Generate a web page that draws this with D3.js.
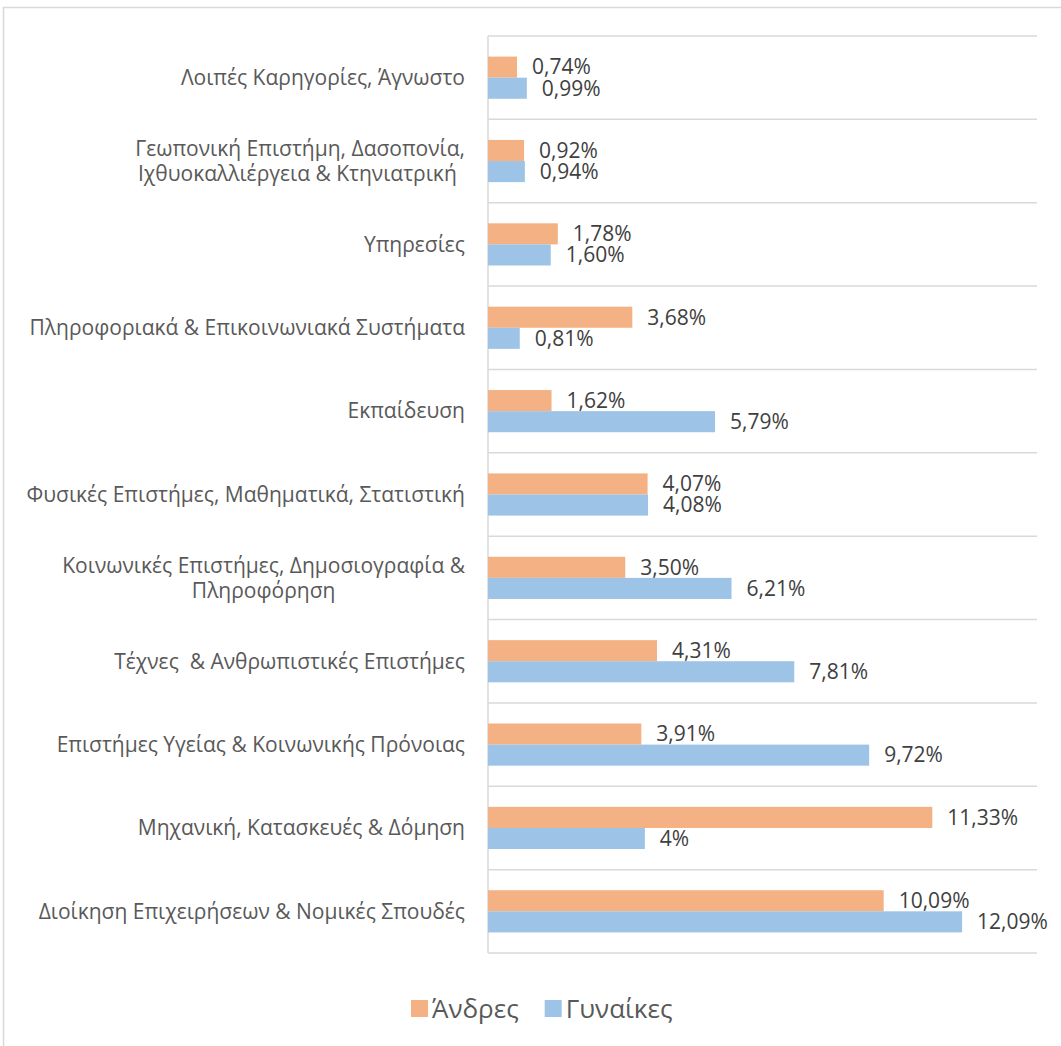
<!DOCTYPE html>
<html>
<head>
<meta charset="utf-8">
<script src="https://cdn.jsdelivr.net/npm/d3@7"></script>
<style>
  body { margin: 0; background: #fff; }
  text { font-family: 'Open Sans', sans-serif; white-space: pre; }
</style>
</head>
<body>
<svg width="1061" height="1046"></svg>
<script>
// categories top to bottom, lines split on \n
const categories = [
  'Λοιπές Καρηγορίες, Άγνωστο',
  'Γεωπονική Επιστήμη, Δασοπονία,\nΙχθυοκαλλιέργεια & Κτηνιατρική ',
  'Υπηρεσίες',
  'Πληροφοριακά & Επικοινωνιακά Συστήματα',
  'Εκπαίδευση',
  'Φυσικές Επιστήμες, Μαθηματικά, Στατιστική',
  'Κοινωνικές Επιστήμες, Δημοσιογραφία &\nΠληροφόρηση',
  'Τέχνες  & Ανθρωπιστικές Επιστήμες',
  'Επιστήμες Υγείας & Κοινωνικής Πρόνοιας',
  'Μηχανική, Κατασκευές & Δόμηση',
  'Διοίκηση Επιχειρήσεων & Νομικές Σπουδές'
];
const men = [0.74, 0.92, 1.78, 3.68, 1.62, 4.07, 3.50, 4.31, 3.91, 11.33, 10.09];
const women = [0.99, 0.94, 1.60, 0.81, 5.79, 4.08, 6.21, 7.81, 9.72, 4, 12.09];
const seriesNames = ['Άνδρες', 'Γυναίκες'];
const colors = ['#F4B183', '#9DC3E6'];

const svg = d3.select('svg');
const pad = { top: 36, left: 488, right: 24, bottom: 93 };
const width = 1061, height = 1046;
const grid = '#D9D9D9';

// outer chart frame
svg.append('rect')
  .attr('x', 3.5).attr('y', 7.5)
  .attr('width', 1070).attr('height', 1060)
  .attr('fill', 'none')
  .attr('stroke', grid)
  .attr('stroke-width', 1.5);

const x = d3.scaleLinear().domain([0, 14]).range([pad.left, width - pad.right]);
const y = d3.scaleBand().domain(d3.range(categories.length))
  .range([pad.top, height - pad.bottom]);
const barH = y.bandwidth() * 0.253;

// horizontal gridlines on category boundaries
const bounds = d3.range(categories.length + 1).map(i => pad.top + i * y.step());
svg.append('g').selectAll('line').data(bounds).join('line')
  .attr('x1', x(0)).attr('x2', x(14))
  .attr('y1', d => d).attr('y2', d => d)
  .attr('stroke', grid).attr('stroke-width', 1.5);

svg.append('line')
  .attr('x1', x(0)).attr('x2', x(0))
  .attr('y1', pad.top).attr('y2', height - pad.bottom)
  .attr('stroke', grid).attr('stroke-width', 1.5);

const fmt = v => (Number.isInteger(v) ? v : v.toFixed(2).replace('.', ',')) + '%';

[men, women].forEach((vals, s) => {
  const g = svg.append('g');
  const yc = i => y(i) + y.bandwidth() / 2 + (s === 0 ? -barH : 0);
  g.selectAll('rect').data(vals).join('rect')
    .attr('x', x(0))
    .attr('y', (d, i) => yc(i))
    .attr('width', d => x(d) - x(0))
    .attr('height', barH)
    .attr('fill', colors[s]);
  g.selectAll('text').data(vals).join('text')
    .attr('x', d => x(d) + 15)
    .attr('y', (d, i) => yc(i) + barH / 2)
    .attr('dy', '0.35em')
    .attr('font-size', 21)
    .attr('fill', '#404040')
    .text(d => fmt(d));
});

// category labels, wrapped lines centred as a block, right aligned
const labRight = 465;
categories.forEach((c, i) => {
  const lines = c.split('\n');
  const t = svg.append('text')
    .attr('font-size', 21)
    .attr('fill', '#595959')
    .attr('text-anchor', lines.length > 1 ? 'middle' : 'end');
  const cy = y(i) + y.bandwidth() / 2;
  const lh = 25;
  const spans = lines.map((l, k) => t.append('tspan')
    .attr('y', cy + (k - (lines.length - 1) / 2) * lh)
    .attr('dy', '0.35em')
    .text(l));
  if (lines.length > 1) {
    const w = d3.max(spans, sp => sp.node().getComputedTextLength());
    spans.forEach(sp => sp.attr('x', labRight - w / 2));
  } else {
    spans[0].attr('x', labRight);
  }
});

// legend
const leg = svg.append('g');
let lx = 411;
seriesNames.forEach((n, s) => {
  leg.append('rect')
    .attr('x', lx).attr('y', 1000)
    .attr('width', 17).attr('height', 17)
    .attr('fill', colors[s]);
  const t = leg.append('text')
    .attr('x', lx + 21).attr('y', 1008.5)
    .attr('dy', '0.35em')
    .attr('font-size', 26)
    .attr('fill', '#595959')
    .text(n);
  lx += 21 + t.node().getComputedTextLength() + 26;
});
</script>
</body>
</html>
